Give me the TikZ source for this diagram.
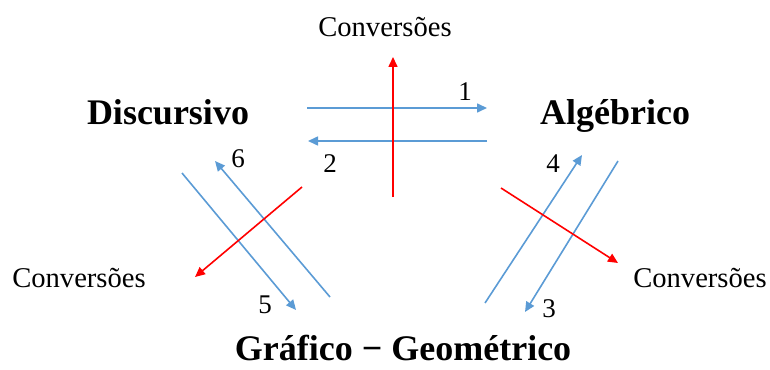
\documentclass[tikz,border=0pt]{standalone}
\usepackage{fontspec}
\setmainfont{Liberation Serif}
\usetikzlibrary{arrows.meta}
\definecolor{conv}{HTML}{5B9BD5}
\definecolor{outer}{HTML}{FF0000}

\begin{document}
\begin{tikzpicture}[x=0.5pt,y=-0.5pt,
 reg/.style={anchor=base,font=\fontsize{18}{21}\selectfont\bfseries,inner sep=0pt},
 lab/.style={anchor=base,font=\fontsize{14.3}{17}\selectfont,inner sep=0pt},
 num/.style={anchor=base,font=\fontsize{13.5}{16}\selectfont,inner sep=0pt},
 arr/.style={-{Triangle[length=5pt,width=4.5pt]},line width=0.8pt,draw=conv},
 redarr/.style={-{Triangle[length=5pt,width=4.5pt]},line width=0.8pt,draw=outer}]
\useasboundingbox (0,0) rectangle (770,369);
% registers
\node[reg] (disc) at (168,125) {Discursivo};
\node[reg] (alg) at (615,125) {Algébrico};
\node[reg] (graf) at (403,360) {Gráfico − Geométrico};
\node[lab] (convtop) at (385,37) {Conversões};
\node[lab] (convleft) at (79,287) {Conversões};
\node[lab] (convright) at (700,287) {Conversões};
% arrow ends
\coordinate (a1s) at (307,108); \coordinate (a1e) at (487,108);
\coordinate (a2s) at (487,141); \coordinate (a2e) at (308,141);
\coordinate (a5s) at (182,173); \coordinate (a5e) at (296,310);
\coordinate (a6s) at (330,297); \coordinate (a6e) at (215,161);
\coordinate (a4s) at (485,303); \coordinate (a4e) at (582,155);
\coordinate (a3s) at (618,161); \coordinate (a3e) at (525,312);
\coordinate (rts) at (393,197); \coordinate (rte) at (393,57);
\coordinate (rls) at (302,187); \coordinate (rle) at (195,277);
\coordinate (rrs) at (501,188); \coordinate (rre) at (618,263);
% numbers
\node[num] (n1) at (465,100) {1};
\node[num] (n2) at (330,172) {2};
\node[num] (n6) at (238,167) {6};
\node[num] (n5) at (265,313) {5};
\node[num] (n4) at (553,172) {4};
\node[num] (n3) at (549,317) {3};
\draw[arr] (a1s) -- (a1e);
\draw[arr] (a2s) -- (a2e);
\draw[arr] (a5s) -- (a5e);
\draw[arr] (a6s) -- (a6e);
\draw[arr] (a4s) -- (a4e);
\draw[arr] (a3s) -- (a3e);
\draw[redarr] (rts) -- (rte);
\draw[redarr] (rls) -- (rle);
\draw[redarr] (rrs) -- (rre);
\end{tikzpicture}
\end{document}
